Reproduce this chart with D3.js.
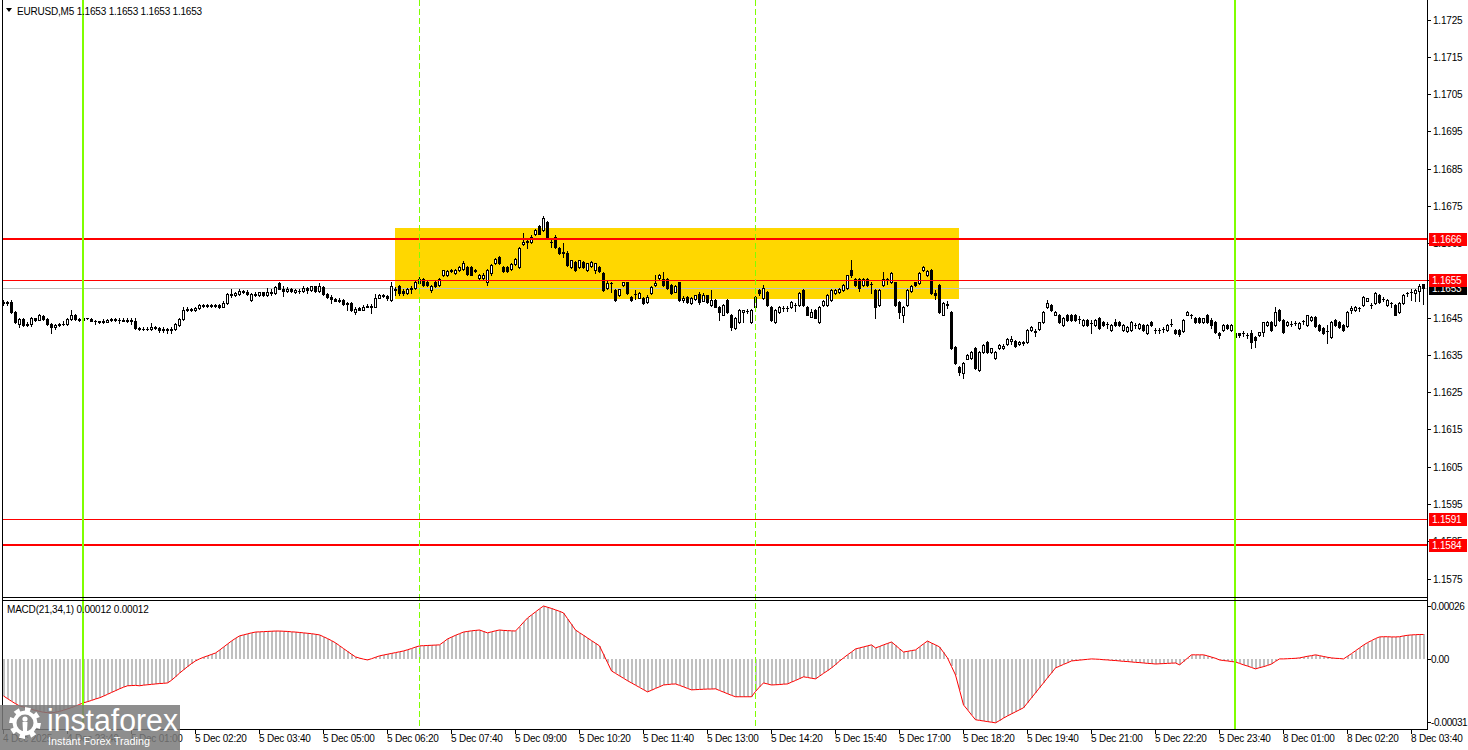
<!DOCTYPE html>
<html><head><meta charset="utf-8">
<script src="https://cdn.jsdelivr.net/npm/d3@7"></script>
<style>
html,body{margin:0;padding:0;background:#fff;}
svg{display:block;}
text{font-family:Tahoma,'Liberation Sans',Arial,sans-serif;}
</style>
</head><body>
<svg id="c" width="1468" height="750"></svg>
<script>
// ---------- DATA (EURUSD M5, bars 4 Dec 22:20 .. 8 Dec 03:55) ----------
const opens=[
1.1649,1.16492,1.16492,1.16466,1.16434,1.16446,1.1643,1.16432,1.16448,1.16445,
1.16454,1.16446,1.16432,1.16424,1.1643,1.16432,1.16432,1.16446,1.16458,1.16446,
1.16443,1.16448,1.16446,1.16442,1.1644,1.16438,1.16439,1.16443,1.16446,1.16443,
1.16444,1.16442,1.16443,1.16442,1.16423,1.1642,1.16421,1.16419,1.16426,1.16422,
1.16416,1.1642,1.16416,1.1642,1.1643,1.16446,1.16472,1.16474,1.1647,1.16476,
1.16484,1.16482,1.16484,1.16481,1.16483,1.1648,1.1649,1.16513,1.1651,1.16514,
1.16522,1.16518,1.16498,1.16514,1.1651,1.16518,1.1651,1.1652,1.16516,1.16542,
1.16528,1.16522,1.16528,1.1652,1.16522,1.16522,1.1653,1.16524,1.16534,1.16522,
1.16532,1.16514,1.16506,1.165,1.16496,1.16498,1.16486,1.1649,1.16466,1.16476,
1.16472,1.1648,1.16482,1.1648,1.16504,1.1651,1.16508,1.16498,1.16526,1.16535,
1.16521,1.16516,1.16526,1.1653,1.16544,1.16555,1.16546,1.16524,1.16546,1.16538,
1.16564,1.16565,1.16576,1.1657,1.16578,1.1658,1.16586,1.16586,1.16576,1.16556,
1.16556,1.16545,1.16569,1.16597,1.16613,1.16586,1.16586,1.16581,1.16595,1.16586,
1.16648,1.16653,1.16653,1.16674,1.16695,1.16685,1.16706,1.16654,1.16666,1.16637,
1.16624,1.16625,1.16586,1.166,1.16586,1.166,1.16578,1.16588,1.16578,1.16586,
1.1657,1.1653,1.16542,1.16524,1.16511,1.16538,1.16545,1.16505,1.16514,1.16504,
1.16503,1.16492,1.16516,1.16538,1.16556,1.16555,1.16555,1.16538,1.1652,1.16545,
1.16497,1.16505,1.16489,1.165,1.16514,1.16496,1.1651,1.16484,1.16497,1.16479,
1.16458,1.16497,1.16458,1.16422,1.16438,1.16466,1.16469,1.16438,1.16479,1.16524,
1.16503,1.16519,1.16479,1.16438,1.16466,1.16477,1.16477,1.16479,1.16484,1.16484,
1.16524,1.16479,1.16453,1.16471,1.16438,1.16484,1.16484,1.16497,1.16516,1.16518,
1.16524,1.16529,1.16579,1.16555,1.16555,1.16538,1.16555,1.1654,1.16524,1.16484,
1.16538,1.1655,1.16545,1.16545,1.16492,1.16458,1.16484,1.16522,1.16545,1.16542,
1.16578,1.16564,1.16578,1.16516,1.16538,1.16458,1.16486,1.16466,1.16371,1.16318,
1.16302,1.1634,1.16342,1.16369,1.1631,1.16358,1.16385,1.16358,1.16342,1.16369,
1.16369,1.1638,1.16388,1.16387,1.16379,1.16382,1.16385,1.16417,1.16412,1.16419,
1.16438,1.16479,1.16484,1.16458,1.16458,1.1643,1.16458,1.16458,1.16458,1.16446,
1.1643,1.16444,1.16436,1.1643,1.1645,1.16438,1.16434,1.16417,1.16438,1.16438,
1.16417,1.16414,1.16417,1.1643,1.16422,1.1643,1.16409,1.16438,1.16417,1.16417,
1.1642,1.16417,1.16433,1.16417,1.16417,1.16414,1.16458,1.16458,1.1645,1.1645,
1.16438,1.16458,1.16444,1.16438,1.1641,1.16417,1.1643,1.16417,1.16399,1.16408,
1.16409,1.16404,1.16409,1.16398,1.16404,1.16412,1.1643,1.16438,1.1643,1.16471,
1.16444,1.1643,1.16434,1.16436,1.16422,1.1644,1.1643,1.16444,1.16453,1.1643,
1.16422,1.16415,1.16398,1.16444,1.16438,1.1643,1.16427,1.16471,1.16471,1.16476,
1.16484,1.16496,1.16484,1.16489,1.16511,1.16499,1.16484,1.16489,1.16484,1.16466,
1.16489,1.16516,1.1652,1.16516,1.16522,1.1654];
const highs=[
1.16498,1.16496,1.16498,1.16468,1.16448,1.16449,1.16438,1.16452,1.1645,1.1646,
1.16456,1.16448,1.16435,1.16432,1.16436,1.16442,1.1645,1.1647,1.1646,1.16448,
1.16452,1.1645,1.16448,1.16444,1.16442,1.16446,1.16446,1.16448,1.16448,1.1645,
1.16448,1.1645,1.16448,1.1645,1.16426,1.16424,1.16424,1.16436,1.16428,1.16424,
1.16424,1.16422,1.16424,1.16436,1.1645,1.1648,1.16478,1.16476,1.16478,1.16486,
1.16486,1.16488,1.16486,1.16486,1.16486,1.16494,1.16516,1.16526,1.1652,1.16526,
1.16524,1.16524,1.16516,1.1652,1.1652,1.1652,1.1653,1.16528,1.16534,1.16546,
1.16534,1.16532,1.1653,1.16526,1.16526,1.16534,1.16532,1.16536,1.16536,1.16544,
1.16534,1.16516,1.16512,1.16504,1.16502,1.165,1.16492,1.16492,1.16478,1.16478,
1.16484,1.16486,1.16486,1.16514,1.16514,1.16514,1.1651,1.16546,1.16532,1.16538,
1.16526,1.1653,1.16534,1.16548,1.16558,1.16557,1.16548,1.16538,1.16548,1.16556,
1.16579,1.16578,1.1658,1.16582,1.16588,1.16602,1.16588,1.16588,1.16582,1.16568,
1.1657,1.1658,1.16594,1.1661,1.16616,1.16588,1.16588,1.16596,1.1661,1.16639,
1.16678,1.16658,1.16672,1.16687,1.16698,1.16722,1.1671,1.16658,1.16672,1.1664,
1.1665,1.16628,1.16606,1.16602,1.16606,1.16602,1.16598,1.16602,1.16598,1.1659,
1.16572,1.1655,1.16546,1.16526,1.16528,1.16547,1.16547,1.16507,1.16524,1.16518,
1.16505,1.1651,1.16534,1.16564,1.16568,1.16572,1.16557,1.1654,1.16538,1.16547,
1.16508,1.16508,1.16506,1.16511,1.16518,1.16516,1.16512,1.16524,1.16499,1.16481,
1.16486,1.16499,1.1646,1.16452,1.16473,1.16472,1.16473,1.16473,1.16507,1.16526,
1.16538,1.16521,1.16481,1.16473,1.16481,1.16482,1.16482,1.16494,1.1649,1.16518,
1.16526,1.16481,1.16474,1.16473,1.16481,1.16497,1.16513,1.16526,1.16526,1.1653,
1.1654,1.16566,1.16604,1.16557,1.16557,1.16557,1.16557,1.16545,1.16526,1.16526,
1.16572,1.16557,1.16572,1.16547,1.16494,1.16481,1.16526,1.16539,1.16547,1.16572,
1.16589,1.16578,1.16582,1.16524,1.1654,1.16491,1.16494,1.16468,1.16373,1.1632,
1.1633,1.16352,1.1636,1.16371,1.1636,1.1638,1.16388,1.1637,1.1636,1.1638,
1.1638,1.16396,1.164,1.16389,1.16388,1.16388,1.16419,1.16428,1.1642,1.16439,
1.16468,1.16497,1.16486,1.16468,1.1646,1.16452,1.1646,1.1646,1.1646,1.16454,
1.16446,1.16446,1.16444,1.16446,1.16452,1.1644,1.16438,1.16432,1.16446,1.1644,
1.16432,1.16428,1.1644,1.16436,1.16436,1.16432,1.16432,1.1644,1.16422,1.16422,
1.16426,1.16432,1.16446,1.16419,1.16419,1.16446,1.16468,1.1646,1.16452,1.16452,
1.1645,1.1646,1.16448,1.1644,1.16412,1.16432,1.16432,1.16432,1.16412,1.1641,
1.16414,1.1641,1.16417,1.164,1.16412,1.16438,1.1644,1.1644,1.16479,1.16473,
1.16446,1.1644,1.1644,1.16442,1.16438,1.16444,1.16458,1.16455,1.16455,1.16432,
1.16424,1.1643,1.1644,1.16446,1.1644,1.16432,1.16468,1.16482,1.16482,1.1648,
1.16507,1.16504,1.1649,1.16518,1.16513,1.16505,1.165,1.16492,1.16486,1.16491,
1.16513,1.1652,1.16526,1.16528,1.1654,1.1654];
const lows=[
1.16485,1.16483,1.16464,1.16435,1.16426,1.16428,1.16428,1.16428,1.1644,1.16443,
1.16444,1.1643,1.1641,1.1642,1.16427,1.1643,1.1643,1.16444,1.16444,1.1644,
1.16426,1.16446,1.1644,1.16433,1.16436,1.16437,1.16438,1.16442,1.16441,1.16437,
1.1644,1.16439,1.16433,1.1642,1.16417,1.16418,1.16416,1.16416,1.1642,1.16412,
1.16413,1.16408,1.16409,1.16418,1.16428,1.16444,1.16469,1.16468,1.16469,1.16474,
1.1648,1.1648,1.16479,1.16479,1.16477,1.16478,1.16488,1.16506,1.16508,1.16512,
1.16516,1.1651,1.16496,1.16508,1.16508,1.16508,1.16508,1.16512,1.16514,1.16526,
1.16508,1.1652,1.16518,1.16516,1.16517,1.1652,1.16516,1.16522,1.1652,1.1652,
1.16512,1.16504,1.1649,1.16494,1.16492,1.16484,1.1647,1.16468,1.1646,1.1647,
1.1647,1.16478,1.16464,1.16478,1.16502,1.16506,1.16498,1.16496,1.1651,1.16512,
1.16512,1.16514,1.16516,1.16528,1.16542,1.16536,1.16536,1.16518,1.16532,1.16536,
1.16562,1.16562,1.16574,1.16568,1.16576,1.16578,1.16566,1.16564,1.16574,1.16554,
1.16552,1.16538,1.16566,1.16594,1.16594,1.16574,1.16572,1.16578,1.16592,1.16584,
1.16646,1.16637,1.1665,1.16672,1.16674,1.16682,1.16661,1.16639,1.16637,1.16622,
1.16612,1.16589,1.16584,1.16576,1.16584,1.16584,1.16576,1.16586,1.1657,1.16574,
1.16522,1.16528,1.16518,1.16495,1.16508,1.16536,1.16514,1.16495,1.165,1.16502,
1.16486,1.1649,1.16514,1.16536,1.16554,1.16536,1.16527,1.16514,1.16518,1.16495,
1.16492,1.1649,1.16486,1.16498,1.16488,1.16494,1.1649,1.16482,1.16478,1.16444,
1.16456,1.16464,1.16417,1.1642,1.16436,1.16438,1.16462,1.16436,1.16477,1.16512,
1.16501,1.16482,1.16442,1.16436,1.16464,1.16468,1.16468,1.16477,1.16468,1.16482,
1.16482,1.16456,1.16451,1.16448,1.16436,1.16482,1.16482,1.16495,1.16514,1.16516,
1.16522,1.16527,1.1656,1.16536,1.16522,1.16536,1.16536,1.16516,1.1645,1.16482,
1.16536,1.1654,1.16543,1.16482,1.1645,1.16438,1.16482,1.1652,1.16536,1.1654,
1.16576,1.16562,1.16514,1.165,1.16464,1.16456,1.16476,1.16367,1.16326,1.16296,
1.16288,1.16338,1.1634,1.16313,1.16308,1.16356,1.16356,1.16354,1.16338,1.16367,
1.16367,1.16378,1.1638,1.16372,1.16376,1.16376,1.16383,1.16415,1.164,1.16417,
1.16436,1.16477,1.16469,1.16456,1.16436,1.16428,1.16442,1.16442,1.16442,1.16436,
1.16428,1.16428,1.16409,1.16428,1.1642,1.16428,1.16422,1.16415,1.16428,1.16428,
1.16415,1.16412,1.16415,1.16422,1.1642,1.16415,1.16407,1.16428,1.16409,1.16409,
1.16412,1.16415,1.16428,1.16407,1.164,1.16412,1.16456,1.16448,1.16436,1.16436,
1.16436,1.16436,1.16422,1.16409,1.16396,1.16415,1.1642,1.16415,1.16394,1.16398,
1.164,1.16396,1.1637,1.16371,1.164,1.16402,1.16428,1.16414,1.16428,1.16442,
1.1641,1.16428,1.16428,1.1643,1.1642,1.16432,1.16428,1.16442,1.16425,1.16415,
1.16407,1.16382,1.16396,1.16428,1.16422,1.16415,1.16425,1.16462,1.16469,1.16468,
1.16482,1.16494,1.16476,1.16487,1.1649,1.16494,1.16482,1.16478,1.16456,1.16464,
1.16487,1.16508,1.16498,1.16496,1.16496,1.16486];
const closes=[
1.16492,1.16489,1.16466,1.16438,1.16446,1.1643,1.16434,1.16448,1.16445,1.16456,
1.16446,1.16432,1.16424,1.1643,1.16432,1.16434,1.16446,1.16458,1.16446,1.16443,
1.16448,1.16448,1.16442,1.1644,1.16438,1.1644,1.16444,1.16446,1.16443,1.16444,
1.16442,1.16443,1.16442,1.16423,1.1642,1.16421,1.16419,1.16426,1.16422,1.16416,
1.1642,1.16416,1.1642,1.16434,1.16446,1.16472,1.16474,1.1647,1.16476,1.16484,
1.16482,1.16484,1.16481,1.16483,1.1648,1.1649,1.16513,1.1651,1.16516,1.16522,
1.16518,1.16513,1.16514,1.1651,1.16518,1.1651,1.1652,1.16516,1.16532,1.16528,
1.16522,1.16528,1.16522,1.16524,1.16522,1.1653,1.16524,1.16534,1.16522,1.16534,
1.16514,1.16506,1.165,1.16496,1.16498,1.16486,1.1649,1.16472,1.16474,1.16472,
1.1648,1.16482,1.1648,1.16504,1.1651,1.16508,1.16502,1.16536,1.16525,1.16516,
1.16516,1.16526,1.1653,1.16547,1.16555,1.16538,1.16538,1.16536,1.16534,1.16553,
1.16577,1.16576,1.16578,1.16578,1.16585,1.16596,1.16568,1.16566,1.16578,1.16566,
1.16564,1.16577,1.16591,1.16607,1.16597,1.16576,1.16576,1.16594,1.16608,1.16637,
1.16653,1.16655,1.16666,1.16685,1.16676,1.16717,1.16663,1.16652,1.16639,1.16624,
1.16626,1.16591,1.16604,1.16578,1.16604,1.16586,1.16596,1.166,1.16596,1.16576,
1.16524,1.16544,1.16542,1.16497,1.16526,1.16545,1.16516,1.16497,1.16515,1.16516,
1.16489,1.16506,1.16532,1.16544,1.16566,1.16538,1.16529,1.16516,1.16536,1.16497,
1.16502,1.16492,1.16503,1.1651,1.16492,1.16511,1.16492,1.16497,1.16479,1.16466,
1.16484,1.16466,1.16425,1.1645,1.16471,1.16471,1.16469,1.16471,1.16505,1.16516,
1.16529,1.16484,1.16444,1.16471,1.16479,1.16477,1.16477,1.16492,1.16484,1.16516,
1.16484,1.16458,1.16466,1.1645,1.16479,1.16494,1.16511,1.16524,1.16524,1.16526,
1.16538,1.16564,1.16564,1.16538,1.1653,1.16555,1.16538,1.1654,1.16479,1.16524,
1.16555,1.16553,1.16569,1.16484,1.16466,1.16479,1.16524,1.16536,1.16538,1.16569,
1.16586,1.16576,1.16516,1.1651,1.16466,1.16489,1.16484,1.16369,1.16328,1.16305,
1.16328,1.1635,1.16358,1.16315,1.16358,1.16377,1.16358,1.16368,1.16358,1.16377,
1.16374,1.16393,1.16392,1.16374,1.16384,1.16384,1.16417,1.16425,1.16415,1.16438,
1.16466,1.16489,1.16471,1.16466,1.16438,1.1645,1.16444,1.16444,1.16444,1.16446,
1.16444,1.1643,1.16436,1.16444,1.16422,1.1643,1.16434,1.1643,1.1643,1.1643,
1.1643,1.16425,1.16438,1.1643,1.16434,1.16417,1.1643,1.1643,1.16417,1.16417,
1.1642,1.1643,1.16433,1.16409,1.16407,1.16444,1.16466,1.16458,1.16438,1.16438,
1.16448,1.16438,1.1643,1.16411,1.16404,1.1643,1.16422,1.1643,1.1641,1.16404,
1.16409,1.16404,1.16385,1.1639,1.16412,1.16438,1.16438,1.16417,1.16466,1.16444,
1.16412,1.16438,1.16434,1.16436,1.16436,1.1644,1.16456,1.16453,1.16427,1.16417,
1.16409,1.16415,1.16438,1.1643,1.16425,1.16417,1.16466,1.16475,1.16479,1.16476,
1.16505,1.16502,1.16484,1.16516,1.16492,1.16499,1.16497,1.16489,1.16458,1.16489,
1.16511,1.16516,1.1652,1.16524,1.16536,1.1653];
// MACD(21,34,1) main values; signal = SMA(1) of main, so the same series
const macdValues=[
-18.2e-5,-19.5e-5,-20.8e-5,-22.0e-5,-23.1e-5,-23.6e-5,-24.2e-5,-24.8e-5,-25.3e-5,-25.8e-5,
-26.2e-5,-26.4e-5,-26.5e-5,-26.2e-5,-25.8e-5,-25.2e-5,-24.6e-5,-23.9e-5,-23.2e-5,-22.4e-5,
-21.6e-5,-21.0e-5,-20.4e-5,-19.7e-5,-19.1e-5,-18.3e-5,-17.4e-5,-16.5e-5,-15.6e-5,-14.7e-5,
-13.9e-5,-13.2e-5,-13.1e-5,-13.0e-5,-13.2e-5,-12.9e-5,-12.7e-5,-12.5e-5,-12.3e-5,-12.1e-5,
-12.0e-5,-11.8e-5,-10.5e-5,-8.8e-5,-7.0e-5,-5.4e-5,-3.8e-5,-2.3e-5,-1.0e-5,0.0e-5,
0.8e-5,1.5e-5,2.2e-5,2.9e-5,4.3e-5,5.8e-5,7.3e-5,8.8e-5,10.1e-5,11.3e-5,
11.8e-5,12.3e-5,12.8e-5,13.2e-5,13.3e-5,13.4e-5,13.5e-5,13.6e-5,13.7e-5,13.7e-5,
13.6e-5,13.5e-5,13.3e-5,13.2e-5,13.0e-5,12.8e-5,12.6e-5,12.4e-5,12.1e-5,11.8e-5,
10.9e-5,10.0e-5,9.0e-5,7.9e-5,6.5e-5,5.1e-5,3.7e-5,2.3e-5,1.0e-5,0.4e-5,
-0.1e-5,-0.5e-5,0.1e-5,0.8e-5,1.5e-5,1.9e-5,2.3e-5,2.7e-5,3.1e-5,3.5e-5,
3.9e-5,4.5e-5,5.1e-5,5.8e-5,6.4e-5,6.5e-5,6.6e-5,6.7e-5,6.8e-5,6.9e-5,
8.3e-5,9.8e-5,10.7e-5,11.6e-5,12.4e-5,13.2e-5,13.5e-5,13.8e-5,14.0e-5,14.2e-5,
13.5e-5,12.8e-5,13.3e-5,13.8e-5,14.2e-5,14.0e-5,13.9e-5,13.8e-5,13.7e-5,15.8e-5,
18.0e-5,20.1e-5,21.6e-5,23.1e-5,24.6e-5,26.0e-5,25.4e-5,24.8e-5,24.1e-5,23.4e-5,
22.6e-5,19.8e-5,17.0e-5,14.2e-5,12.9e-5,11.6e-5,10.3e-5,9.0e-5,7.7e-5,6.4e-5,
2.3e-5,-1.8e-5,-5.9e-5,-7.1e-5,-8.3e-5,-9.5e-5,-10.7e-5,-11.8e-5,-12.9e-5,-14.0e-5,
-15.1e-5,-16.2e-5,-15.4e-5,-14.5e-5,-13.7e-5,-12.8e-5,-12.6e-5,-12.4e-5,-12.3e-5,-13.0e-5,
-13.7e-5,-14.5e-5,-15.2e-5,-15.1e-5,-15.0e-5,-14.9e-5,-14.8e-5,-14.8e-5,-14.7e-5,-15.5e-5,
-16.3e-5,-17.1e-5,-17.9e-5,-18.6e-5,-18.6e-5,-18.6e-5,-18.6e-5,-18.6e-5,-16.0e-5,-13.8e-5,
-11.8e-5,-12.3e-5,-12.8e-5,-12.7e-5,-12.6e-5,-12.4e-5,-12.3e-5,-11.4e-5,-10.6e-5,-9.7e-5,
-8.8e-5,-9.1e-5,-9.5e-5,-9.8e-5,-8.5e-5,-7.1e-5,-5.8e-5,-4.4e-5,-2.8e-5,-1.1e-5,
0.5e-5,2.0e-5,3.4e-5,4.9e-5,5.4e-5,5.9e-5,6.4e-5,6.9e-5,5.4e-5,6.1e-5,
6.9e-5,7.6e-5,8.3e-5,6.7e-5,5.0e-5,3.4e-5,3.7e-5,4.1e-5,4.4e-5,5.9e-5,
7.4e-5,8.8e-5,7.8e-5,6.9e-5,5.9e-5,3.2e-5,0.5e-5,-3.7e-5,-7.9e-5,-15.2e-5,
-22.6e-5,-25.0e-5,-27.5e-5,-29.9e-5,-30.2e-5,-30.5e-5,-30.8e-5,-31.1e-5,-31.4e-5,-30.3e-5,
-29.1e-5,-28.0e-5,-27.0e-5,-26.0e-5,-25.0e-5,-24.0e-5,-21.6e-5,-19.1e-5,-16.7e-5,-14.2e-5,
-11.8e-5,-9.3e-5,-6.9e-5,-4.4e-5,-3.6e-5,-2.7e-5,-1.9e-5,-1.0e-5,-0.8e-5,-0.6e-5,
-0.4e-5,-0.2e-5,0.0e-5,-0.1e-5,-0.2e-5,-0.4e-5,-0.5e-5,-0.7e-5,-0.8e-5,-1.0e-5,
-1.2e-5,-1.3e-5,-1.5e-5,-1.7e-5,-1.8e-5,-2.0e-5,-2.2e-5,-2.3e-5,-2.5e-5,-2.4e-5,
-2.3e-5,-2.2e-5,-2.1e-5,-2.0e-5,-2.9e-5,-1.3e-5,0.4e-5,2.0e-5,2.0e-5,2.0e-5,
2.0e-5,1.5e-5,0.9e-5,0.3e-5,-0.5e-5,-0.8e-5,-1.0e-5,-1.3e-5,-1.5e-5,-2.2e-5,
-2.9e-5,-3.5e-5,-4.2e-5,-4.9e-5,-4.3e-5,-3.8e-5,-3.2e-5,-2.5e-5,-1.2e-5,0.0e-5,
0.0e-5,0.1e-5,0.2e-5,0.3e-5,0.5e-5,0.9e-5,1.3e-5,1.6e-5,2.0e-5,1.6e-5,
1.2e-5,0.8e-5,0.5e-5,0.3e-5,0.2e-5,0.0e-5,1.3e-5,2.6e-5,4.0e-5,5.4e-5,
6.8e-5,8.0e-5,9.0e-5,10.0e-5,10.8e-5,10.9e-5,10.9e-5,10.8e-5,10.8e-5,10.9e-5,
11.3e-5,11.6e-5,11.8e-5,11.9e-5,12.0e-5,12.0e-5];
const timeLabels=["4 Dec 2025","4 Dec 23:40","5 Dec 01:00","5 Dec 02:20","5 Dec 03:40","5 Dec 05:00",
"5 Dec 06:20","5 Dec 07:40","5 Dec 09:00","5 Dec 10:20","5 Dec 11:40","5 Dec 13:00","5 Dec 14:20",
"5 Dec 15:40","5 Dec 17:00","5 Dec 18:20","5 Dec 19:40","5 Dec 21:00","5 Dec 22:20","5 Dec 23:40",
"8 Dec 01:00","8 Dec 02:20","8 Dec 03:40"];
const timeLabelBars=[0,16,32,48,64,80,96,112,128,144,160,176,192,208,224,240,256,272,288,304,320,336,352];
const priceTicks=[1.1725,1.1715,1.1705,1.1695,1.1685,1.1675,1.1665,1.1655,1.1645,1.1635,1.1625,1.1615,1.1605,1.1595,1.1585,1.1575];
const levelPrices=[1.1666,1.1655,1.1591,1.1584];
const bidPrice=1.1653;
const dayStartBars=[20,308];          // 5 Dec 00:00, 8 Dec 00:00
const sessionBars=[104,188];          // 5 Dec 07:00, 5 Dec 14:00
const zoneBars=[98,239];              // highlighted zone, bar range
const zonePrices=[1.1650,1.1669];     // highlighted zone, price range
const macdTicks=[0.00026,0,-0.00031];
const macdTickLabels=["0.00026","0.00","-0.00031"];

// ---------- DRAW ----------
const svg=d3.select('#c');
const n=closes.length;
const x=d3.scaleLinear().domain([0,355]).range([3,1423]);
const y=d3.scaleLinear().domain([1.1575,1.1725]).range([578.5,19.7]);
const ym=d3.scaleLinear().domain([-0.00031,0.00026]).range([722,606]);
const PL=3,PR=1427,MT=0,MB=597,ST=601,SB=729;

const defs=svg.append('defs');
defs.append('clipPath').attr('id','cm').append('rect').attr('x',PL).attr('y',MT).attr('width',PR-PL).attr('height',MB-MT);
defs.append('clipPath').attr('id','cs').append('rect').attr('x',PL).attr('y',ST).attr('width',PR-PL).attr('height',SB-ST);

svg.append('rect').attr('width',1468).attr('height',750).attr('fill','#fff');

const gm=svg.append('g').attr('clip-path','url(#cm)').attr('shape-rendering','crispEdges');
// zone
gm.append('rect').attr('x',x(zoneBars[0])).attr('width',x(zoneBars[1])-x(zoneBars[0]))
  .attr('y',y(zonePrices[1])).attr('height',y(zonePrices[0])-y(zonePrices[1])).attr('fill','#ffd700');
// bid line
gm.append('line').attr('x1',PL).attr('x2',PR).attr('y1',Math.round(y(bidPrice))+0.5).attr('y2',Math.round(y(bidPrice))+0.5)
  .attr('stroke','#c0c0c0');
// candles
const bars=d3.range(n);
const cg=gm.append('g');
bars.forEach(i=>{
  const cx=Math.round(x(i));
  const o=opens[i],h=highs[i],l=lows[i],c=closes[i];
  cg.append('rect').attr('x',cx).attr('width',1)
    .attr('y',Math.round(y(h))).attr('height',Math.max(1,Math.round(y(l))-Math.round(y(h))+1)).attr('fill','#000');
  const top=Math.round(y(Math.max(o,c))), bot=Math.round(y(Math.min(o,c)));
  if(bot-top<1){
    cg.append('rect').attr('x',cx-1).attr('y',top).attr('width',3).attr('height',1).attr('fill','#000');
  } else {
    cg.append('rect').attr('x',cx-1).attr('y',top).attr('width',3).attr('height',bot-top+1).attr('fill','#000');
    if(c>=o && bot-top>=2){
      cg.append('rect').attr('x',cx).attr('y',top+1).attr('width',1).attr('height',bot-top-1).attr('fill','#fff');
    }
  }
});
// horizontal levels
levelPrices.forEach((p,k)=>{
  const w=(k===0||k===3)?2:1;
  const yy=Math.round(y(p));
  gm.append('rect').attr('x',PL).attr('width',PR-PL).attr('y',yy-(w===2?1:0)).attr('height',w).attr('fill','#ff0000');
});

// MACD panel
const gs=svg.append('g').attr('clip-path','url(#cs)');
const z0=ym(0);
gs.append('g').attr('shape-rendering','crispEdges').selectAll('rect').data(bars).join('rect')
  .attr('x',i=>Math.round(x(i))).attr('width',2)
  .attr('y',i=>Math.min(z0,ym(macdValues[i]))).attr('height',i=>Math.abs(ym(macdValues[i])-z0))
  .attr('fill','#c0c0c0');
gs.append('path').datum(bars).attr('fill','none').attr('stroke','#ff0000').attr('stroke-width',1)
  .attr('d',d3.line().x(i=>Math.round(x(i))+0.5).y(i=>ym(macdValues[i])));

// vertical lines
const gv=svg.append('g').attr('shape-rendering','crispEdges');
dayStartBars.forEach(b=>{
  gv.append('rect').attr('x',Math.round(x(b))-1).attr('y',0).attr('width',2).attr('height',SB).attr('fill','#7fff00');
});
sessionBars.forEach(b=>{
  gv.append('line').attr('x1',Math.round(x(b))+0.5).attr('x2',Math.round(x(b))+0.5).attr('y1',0).attr('y2',SB)
    .attr('stroke','#7fff00').attr('stroke-dasharray','6,3');
});

// frames
const gf=svg.append('g').attr('shape-rendering','crispEdges').attr('stroke','#000').attr('fill','none');
gf.append('line').attr('x1',2.5).attr('x2',2.5).attr('y1',0).attr('y2',SB+1);
gf.append('line').attr('x1',PR+0.5).attr('x2',PR+0.5).attr('y1',0).attr('y2',SB+1);
gf.append('line').attr('x1',2).attr('x2',PR+1).attr('y1',MB+0.5).attr('y2',MB+0.5);
gf.append('line').attr('x1',2).attr('x2',PR+1).attr('y1',ST-0.5).attr('y2',ST-0.5);
gf.append('line').attr('x1',2).attr('x2',PR+1).attr('y1',SB+0.5).attr('y2',SB+0.5);

// price axis
const ga=svg.append('g');
priceTicks.forEach(p=>{
  const yy=Math.round(y(p));
  ga.append('line').attr('x1',PR).attr('x2',PR+4).attr('y1',yy+0.5).attr('y2',yy+0.5).attr('stroke','#000').attr('shape-rendering','crispEdges');
  ga.append('text').attr('x',1433).attr('y',yy+4).attr('font-size',10).attr('letter-spacing','-0.2')
    .attr('fill','#000').text(p.toFixed(4));
});
// bid box then level boxes
function box(p,fill,label){
  const yy=Math.round(y(p));
  ga.append('rect').attr('x',1429).attr('y',yy-6).attr('width',38).attr('height',13).attr('fill',fill);
  ga.append('text').attr('x',1432).attr('y',yy+4).attr('font-size',10).attr('letter-spacing','-0.2')
    .attr('fill','#fff').text(label);
}
box(bidPrice,'#000',bidPrice.toFixed(4));
levelPrices.forEach(p=>box(p,'#ff0000',p.toFixed(4)));

// macd axis
macdTicks.forEach((v,k)=>{
  const yy=Math.round(ym(v));
  ga.append('line').attr('x1',PR).attr('x2',PR+4).attr('y1',yy+0.5).attr('y2',yy+0.5).attr('stroke','#000').attr('shape-rendering','crispEdges');
  ga.append('text').attr('x',1431).attr('y',yy+4).attr('font-size',10).attr('letter-spacing','-0.4').attr('fill','#000').text(macdTickLabels[k]);
});

// time axis
timeLabelBars.forEach((b,k)=>{
  const xx=Math.round(x(b));
  ga.append('line').attr('x1',xx+0.5).attr('x2',xx+0.5).attr('y1',SB).attr('y2',SB+5).attr('stroke','#000').attr('shape-rendering','crispEdges');
  ga.append('text').attr('x',xx).attr('y',742).attr('font-size',10).attr('letter-spacing','-0.2').attr('fill','#000').text(timeLabels[k]);
});

// titles
svg.append('path').attr('d','M6,8 L12,8 L9,12 Z').attr('fill','#000');
svg.append('text').attr('x',17).attr('y',15).attr('font-size',10).attr('letter-spacing','-0.2')
  .text('EURUSD,M5  '+[closes[n-1],closes[n-1],closes[n-1],closes[n-1]].map(v=>v.toFixed(4)).join(' '));
svg.append('text').attr('x',7).attr('y',613).attr('font-size',10).attr('letter-spacing','-0.2')
  .text('MACD(21,34,1) '+macdValues[n-1].toFixed(5)+' '+macdValues[n-1].toFixed(5));

// watermark
const wm=svg.append('g');
wm.append('rect').attr('x',0).attr('y',705).attr('width',180).attr('height',45).attr('fill','#7a7a7a').attr('opacity',0.85);
const gx=25,gyc=723;
const teeth=8;
let gp='';
for(let k=0;k<teeth*2;k++){
  const a0=k*Math.PI/teeth, a1=(k+1)*Math.PI/teeth;
  const r=(k%2===0)?16:12.5;
  gp+=(k===0?'M':'L')+(gx+r*Math.cos(a0)).toFixed(1)+','+(gyc+r*Math.sin(a0)).toFixed(1)+
      'L'+(gx+r*Math.cos(a1)).toFixed(1)+','+(gyc+r*Math.sin(a1)).toFixed(1);
}
wm.append('path').attr('d',gp+'Z').attr('fill','#fff');
wm.append('circle').attr('cx',gx).attr('cy',gyc).attr('r',8.5).attr('fill','#8a8a8a');
wm.append('circle').attr('cx',gx).attr('cy',gyc-4).attr('r',2.6).attr('fill','#fff');
wm.append('path').attr('d',`M${gx-2.5},${gyc-1} L${gx+2.5},${gyc-1} L${gx+2},${gyc+9} L${gx-2},${gyc+9} Z`).attr('fill','#fff');
wm.append('text').attr('x',47).attr('y',731).attr('font-size',31).attr('font-family',"'Open Sans','Liberation Sans',sans-serif")
  .attr('font-weight',300).attr('fill','#fff').attr('textLength',131).attr('lengthAdjust','spacingAndGlyphs').text('instaforex');
wm.append('text').attr('x',48).attr('y',745).attr('font-size',11.5).attr('font-family',"'Liberation Sans',Arial,sans-serif")
  .attr('fill','#fff').attr('textLength',102).attr('lengthAdjust','spacingAndGlyphs').text('Instant Forex Trading');
</script>
</body></html>
